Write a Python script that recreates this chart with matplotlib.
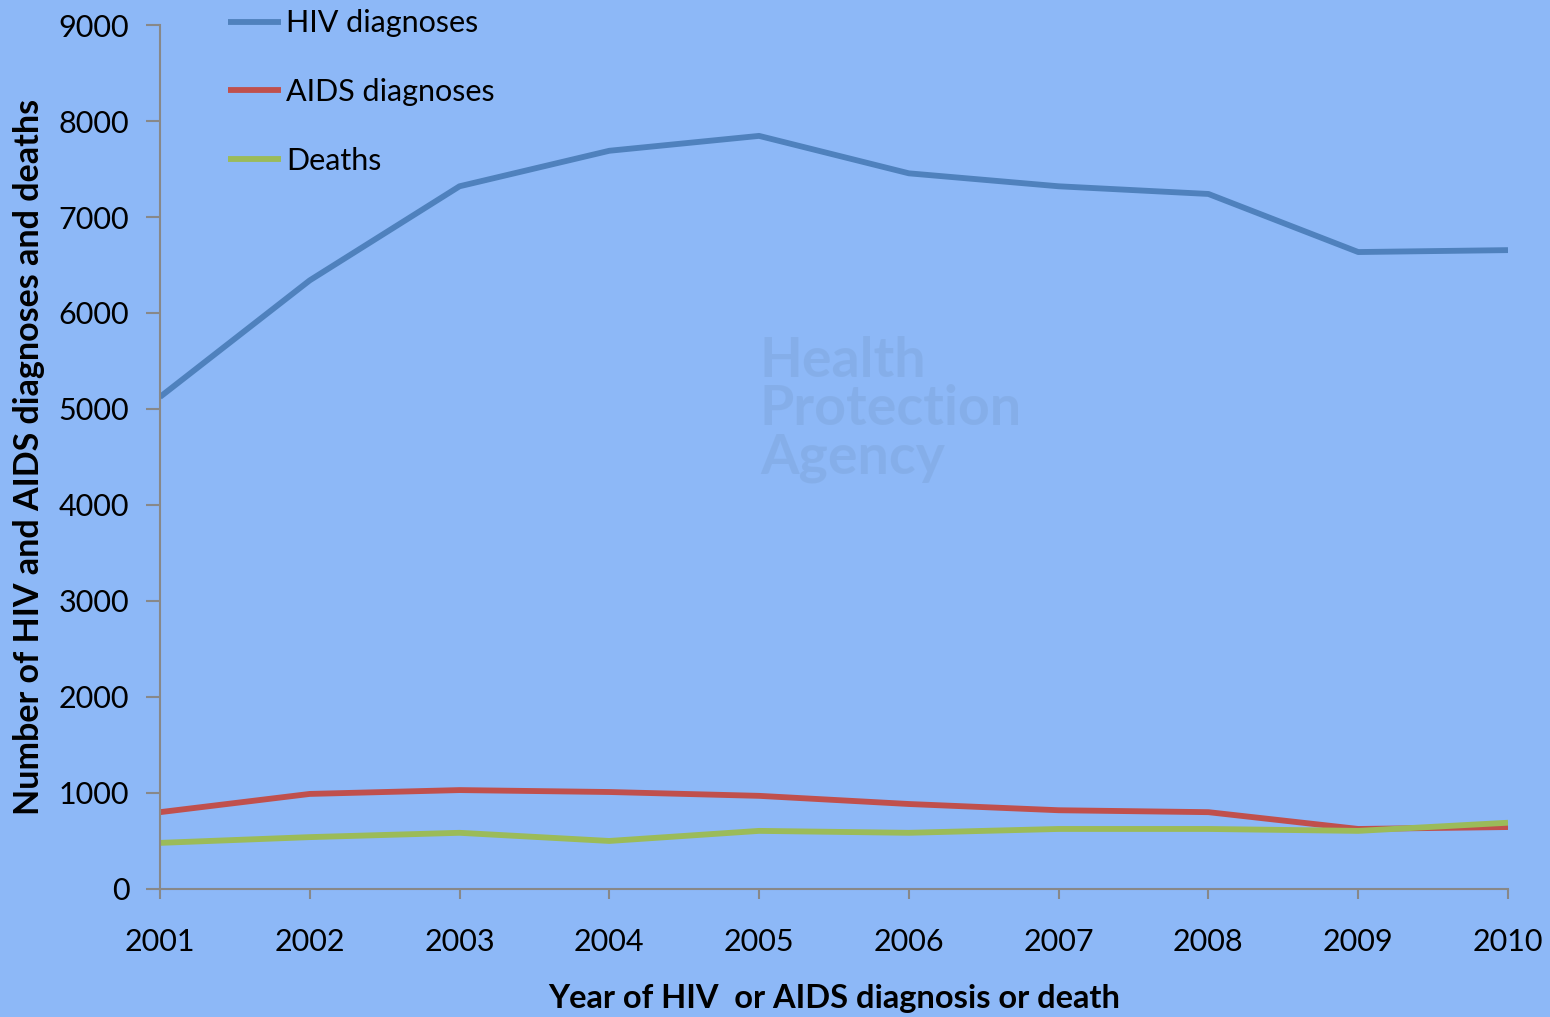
import matplotlib.pyplot as plt

years = [2001, 2002, 2003, 2004, 2005, 2006, 2007, 2008, 2009, 2010]
hiv = [5125, 6340, 7320, 7690, 7845, 7455, 7320, 7240, 6635, 6655]
aids = [800, 990, 1030, 1010, 970, 885, 820, 800, 625, 645]
deaths = [480, 540, 585, 500, 605, 585, 625, 625, 605, 690]

bg = '#8DB8F7'
plt.rcParams['font.family'] = ['Lato', 'DejaVu Sans']

fig = plt.figure(figsize=(15.5, 10.17), dpi=100)
fig.patch.set_facecolor(bg)
ax = fig.add_axes([0.1032, 0.1259, 0.8697, 0.8495])
ax.set_facecolor(bg)

# faint watermark in the middle
ax.text(0.445, 0.555, 'Health\nProtection\nAgency', transform=ax.transAxes,
        fontsize=40, fontweight='bold', color='#7FA6DC', alpha=0.5,
        ha='left', va='center', linespacing=0.95, zorder=0)

ax.plot(years, hiv, color='#4F81BD', lw=4.2, label='HIV diagnoses', solid_capstyle='butt')
ax.plot(years, aids, color='#C0504D', lw=4.2, label='AIDS diagnoses', solid_capstyle='butt')
ax.plot(years, deaths, color='#9BBB59', lw=4.2, label='Deaths', solid_capstyle='butt')

ax.set_xlim(2001, 2010)
ax.set_ylim(0, 9000)
ax.set_xticks(years)
ax.set_yticks(range(0, 9001, 1000))

for s in ['top', 'right']:
    ax.spines[s].set_visible(False)
for s in ['left', 'bottom']:
    ax.spines[s].set_color('#888888')
    ax.spines[s].set_linewidth(1.5)
ax.tick_params(axis='x', direction='out', length=7, width=1.5, color='#888888',
               labelsize=22, pad=21)
ax.tick_params(axis='y', direction='out', length=10, width=1.5, color='#888888',
               labelsize=22, pad=12)

ax.set_xlabel('Year of HIV  or AIDS diagnosis or death', fontsize=23.5, fontweight='bold', labelpad=20)
ax.set_ylabel('Number of HIV and AIDS diagnoses and deaths', fontsize=24.5, fontweight='bold', labelpad=10)

leg = ax.legend(loc='upper left', bbox_to_anchor=(0.03, 1.05), frameon=False, fontsize=22,
                handlelength=1.75, handletextpad=0.15, labelspacing=1.33)

fig.savefig('out.png', dpi=100, facecolor=bg)
